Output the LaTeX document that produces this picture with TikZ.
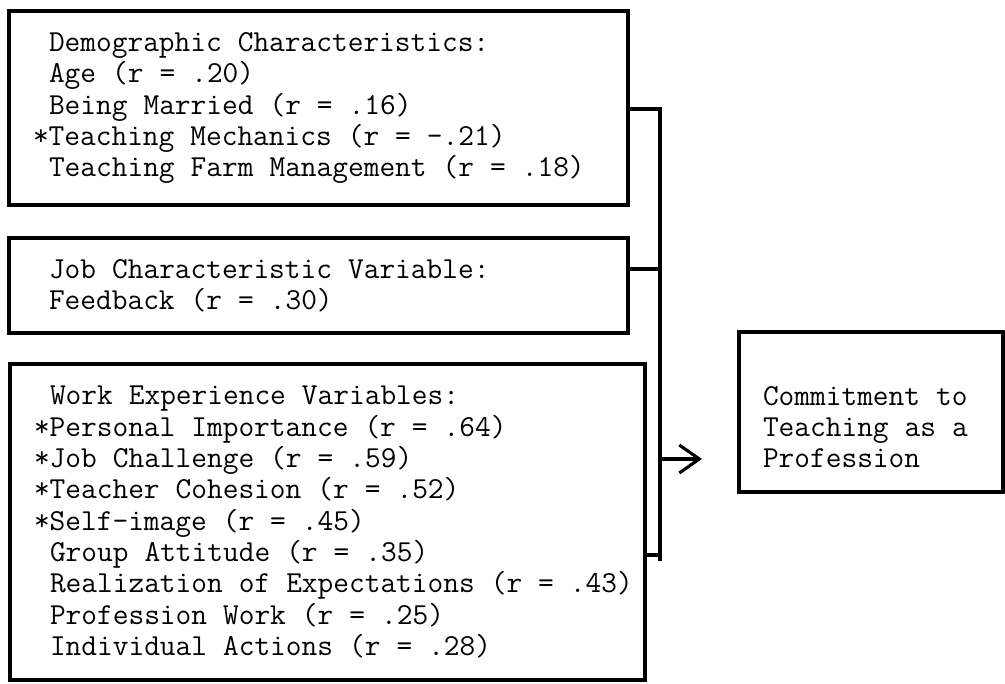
\documentclass[tikz,border=0pt]{standalone}
\usepackage{tikz}
\usetikzlibrary{positioning,arrows.meta}

\begin{document}
\begin{tikzpicture}[
    box/.style={draw,line width=2.2pt,inner xsep=0.6cm,inner ysep=0pt,align=left,
        font=\ttfamily\fontsize{21.7pt}{22.3pt}\selectfont,
        execute at begin node={\spaceskip=0.525em\relax\xspaceskip=0.525em\relax}},
    wire/.style={line width=2.2pt}]
    \useasboundingbox (0,0) rectangle (25.125,17.075);
    \node [box,text width=14.275cm,minimum height=4.85cm] (D) at (7.9625,14.375)
        {\ Demographic Characteristics:\\
         \ Age (r = .20)\\
         \ Being Married (r = .16)\\
         {*}Teaching Mechanics (r = -.21)\\
         \ Teaching Farm Management (r = .18)};
    \node [box,text width=14.275cm,minimum height=2.375cm] (J) at (7.9625,9.9375)
        {\ Job Characteristic Variable:\\
         \ Feedback (r = .30)};
    \node [box,text width=14.675cm,minimum height=7.9cm] (W) at (8.1875,4.025)
        {\ Work Experience Variables:\\
         {*}Personal Importance (r = .64)\\
         {*}Job Challenge (r = .59)\\
         {*}Teacher Cohesion (r = .52)\\
         {*}Self-image (r = .45)\\
         \ Group Attitude (r = .35)\\
         \mbox{\ Realization of Expectations (r = .43)}\\
         \ Profession Work (r = .25)\\
         \ Individual Actions (r = .28)};
    \node [box,text width=5.4cm,minimum height=4cm] (C) at (21.775,6.775)
        {\rule{0pt}{1.23cm}Commitment to\\
         Teaching as a\\
         Profession};
    \coordinate (T) at (16.5,14.35);
    \coordinate (B) at (16.5,3.05);
    \coordinate (E) at (17.55,5.6);
    \draw [wire] (D.east |- T) -- (T) -- (B);
    \draw [wire] (J.east |- 0,10.35) -- (T |- 0,10.35);
    \draw [wire] (W.east |- 0,3.2) -- (B |- 0,3.2);
    \draw [wire,-{Straight Barb[length=5mm,width=7mm]}] (B |- E) -- (E);
\end{tikzpicture}
\end{document}
